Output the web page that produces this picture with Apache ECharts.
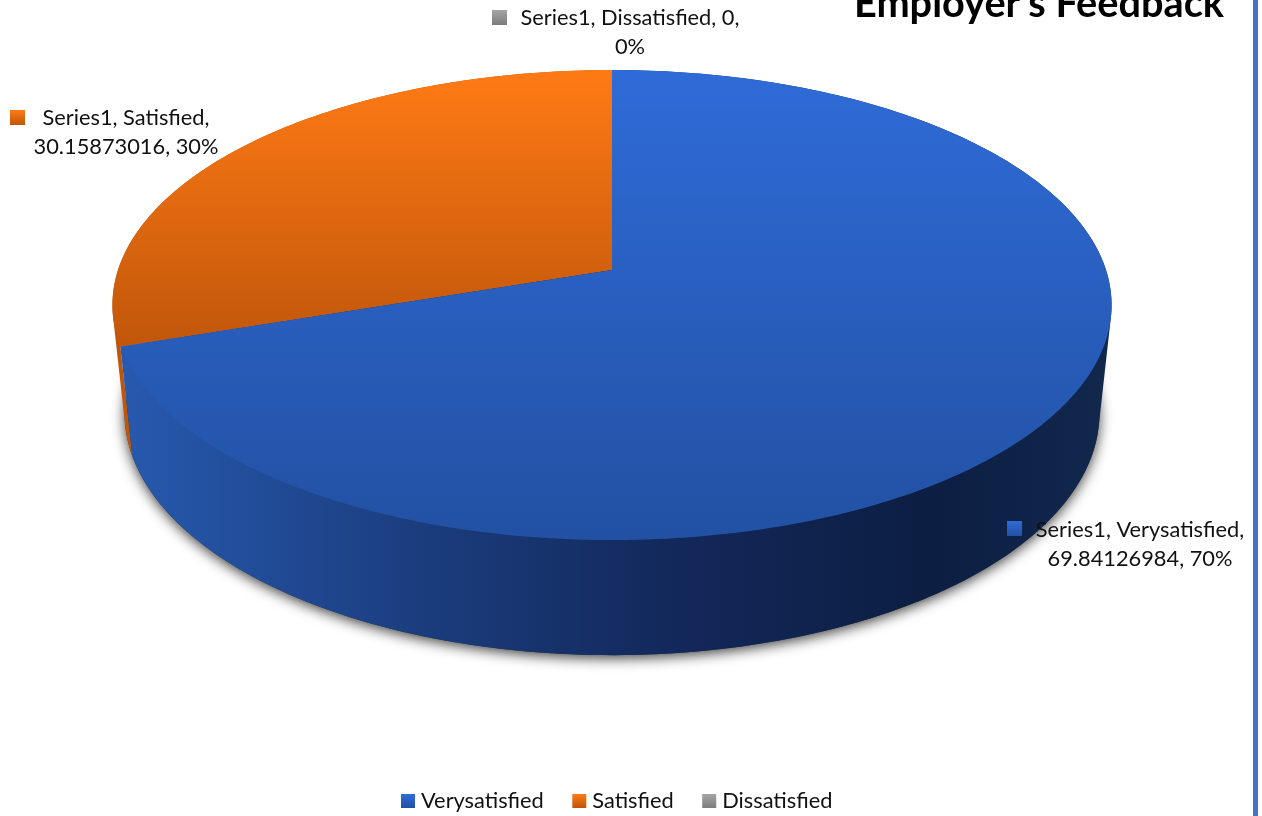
<!DOCTYPE html>
<html>
<head>
<meta charset="utf-8">
<style>html,body{margin:0;padding:0;background:#fff}#c{width:1262px;height:816px}</style>
<script src="https://cdn.jsdelivr.net/npm/echarts@6/dist/echarts.min.js"></script>
</head>
<body>
<div id="c"></div>
<script>
const seriesName = 'Series1';
const categories = ['Verysatisfied', 'Satisfied', 'Dissatisfied'];
const values = [69.84126984, 30.15873016, 0];
const percents = [70, 30, 0];
const chartTitle = "Employer's Feedback";

const FONT = 'Lato';
const total = values.reduce((a, b) => a + b, 0);
const starts = values.map((_, i) => values.slice(0, i).reduce((a, b) => a + b, 0));

// perspective disc: fraction of the circle (clockwise from 12 o'clock) -> screen point
const P = 0.149;
function rim(f, ox, oy, ax, ay) {
  const th = 2 * Math.PI * f, x = Math.sin(th), y = Math.cos(th), w = 1 + P * y;
  return [ox + ax * x / w, oy - ay * y / w];
}
const topRim = f => rim(f, 612, 270, 494, 229.8);
const botRim = f => rim(f, 612, 377, 482, 236.7);
function arc(fn, a, b) {
  const n = Math.max(2, Math.ceil(Math.abs(b - a) * 360)), out = [];
  for (let i = 0; i <= n; i++) out.push(fn(a + (b - a) * i / n));
  return out;
}
// outline of the side wall of a slice, joined to the top disc by straight silhouette edges
const SIL_R = 0.283, SIL_L = 0.717;
function wallOutline(a, b) {
  let pts = [];
  if (a < SIL_R) pts = pts.concat(arc(topRim, a, Math.min(b, SIL_R)));
  else if (a < SIL_L) pts.push(topRim(a));
  if (b > SIL_R && a < SIL_L) pts = pts.concat(arc(botRim, Math.max(a, SIL_R), Math.min(b, SIL_L)));
  if (b > SIL_L) pts = pts.concat(arc(topRim, Math.max(a, SIL_L), b));
  else if (b > SIL_R) pts.push(topRim(b));
  pts.push([612, 270]);
  return pts;
}
function grad(stops, x, y, x2, y2, global) {
  return { type: 'linear', x, y, x2, y2, global: !!global,
    colorStops: stops.map(s => ({ offset: s[0], color: s[1] })) };
}
const topStops = [
  [[0, '#2F6BD8'], [1, '#2251A3']],
  [[0, '#FF7A15'], [1, '#C0560A']],
  [[0, '#A5A5A5'], [1, '#7C7C7C']]
];
const topSpans = [[70, 540], [70, 350], [70, 350]];
const wallStops = [
  [[0, '#2759AE'], [0.3, '#1B3D7E'], [0.55, '#13295C'], [0.82, '#0C1E42'], [1, '#11274C']],
  [[0, '#C0560A'], [1, '#A84A08']],
  [[0, '#888888'], [1, '#666666']]
];
const labelLayout = [
  { cx: 1140, y: 530, mx: 1007, my: 521 },
  { cx: 126, y: 118, mx: 10, my: 110 },
  { cx: 630, y: 18, mx: 492, my: 10 }
];
const labelBreak = [
  (c, v, p) => `${seriesName}, ${c},\n${v}, ${p}%`,
  (c, v, p) => `${seriesName}, ${c},\n${v}, ${p}%`,
  (c, v, p) => `${seriesName}, ${c}, ${v},\n${p}%`
];

function renderSlice(i) {
  return function (params, api) {
    const v = api.value(0), s = api.value(1);
    const a = s / total, b = (s + v) / total;
    const children = [];
    if (v > 0) {
      children.push({
        type: 'polygon', shape: { points: wallOutline(a, b) },
        style: { fill: grad(wallStops[i], 125, 0, 1100, 0, true) }
      });
      children.push({
        type: 'polygon', shape: { points: [[612, 270]].concat(arc(topRim, a, b)) },
        style: { fill: grad(topStops[i], 0, topSpans[i][0], 0, topSpans[i][1], true) }
      });
    }
    const L = labelLayout[i];
    children.push({
      type: 'rect', shape: { x: L.mx, y: L.my, width: 15, height: 15 },
      style: { fill: grad(topStops[i], 0, 0, 0, 1) }
    });
    children.push({
      type: 'text', x: L.cx, y: L.y - 15,
      style: {
        text: labelBreak[i](categories[i], v, percents[i]),
        fill: '#111', font: '21.8px ' + FONT, align: 'center', verticalAlign: 'top', lineHeight: 29
      }
    });
    return { type: 'group', children };
  };
}

const sliceSeries = categories.map((c, i) => ({
  type: 'custom', name: c, coordinateSystem: 'none', silent: true,
  z: i === 0 ? 3 : (i === 1 ? 2 : 4),
  itemStyle: { color: grad(topStops[i], 0, 0, 0, 1) },
  data: [[values[i], starts[i]]],
  renderItem: renderSlice(i)
}));
const baseSeries = {
  type: 'custom', name: 'base', coordinateSystem: 'none', silent: true, z: 1,
  data: [[total]],
  renderItem: () => ({
    type: 'polygon', shape: { points: arc(botRim, 0, 1) },
    style: { fill: '#333', shadowBlur: 13, shadowColor: 'rgba(0,0,0,0.75)', shadowOffsetX: 0, shadowOffsetY: 3 }
  })
};

const chart = echarts.init(document.getElementById('c'), null, { renderer: 'canvas' });
chart.setOption({
  animation: false,
  backgroundColor: '#fff',
  title: {
    text: chartTitle, left: 849, top: -21,
    textStyle: { fontFamily: FONT, fontWeight: 'bold', fontSize: 39.7, color: '#000' }
  },
  legend: {
    data: categories, left: 396, top: 785, icon: 'rect', itemWidth: 14, itemHeight: 14, itemGap: 28.5,
    selectedMode: false,
    textStyle: { fontFamily: FONT, fontSize: 21.8, color: '#111', padding: [0, 0, 0, 1] }
  },
  graphic: [{ type: 'rect', shape: { x: 1253, y: 0, width: 5, height: 816 }, style: { fill: '#4472C4' } }],
  series: [baseSeries].concat(sliceSeries)
});
</script>
</body>
</html>
